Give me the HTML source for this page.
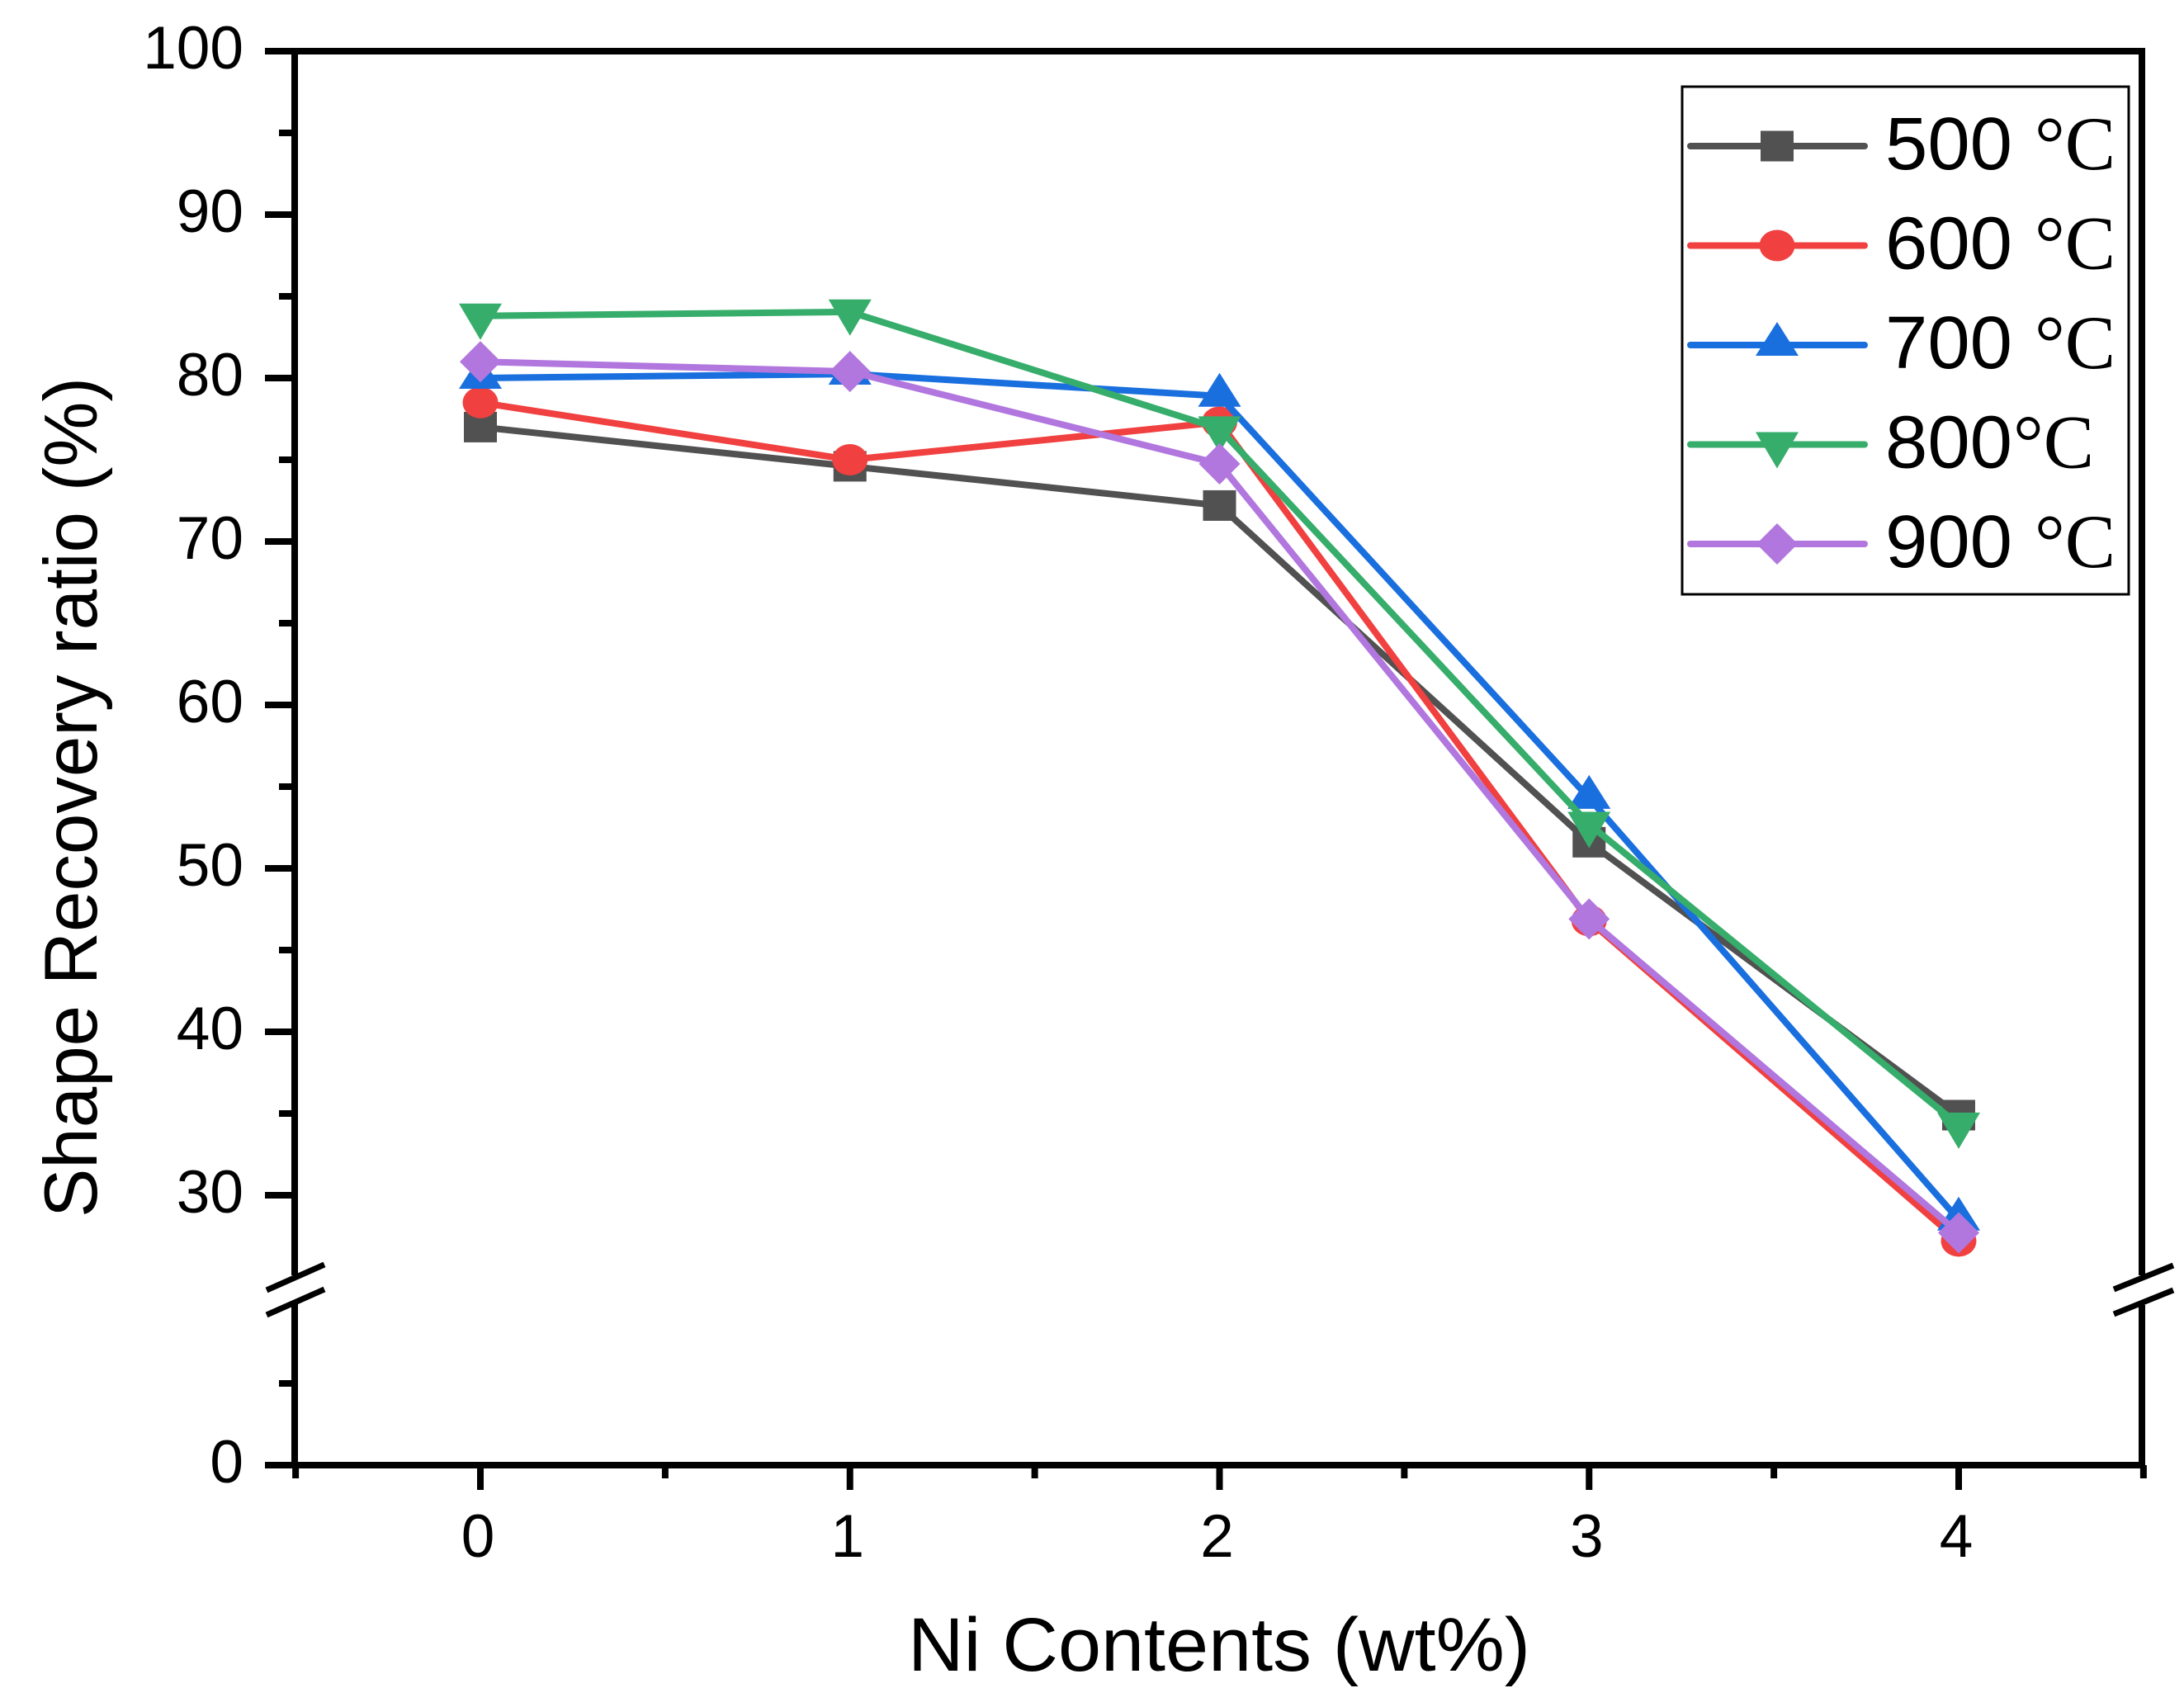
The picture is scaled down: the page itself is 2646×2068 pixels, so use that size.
<!DOCTYPE html>
<html lang="en">
<head>
<meta charset="utf-8">
<title>Shape Recovery ratio vs Ni Contents</title>
<style>
html,body{margin:0;padding:0;background:#fff;}
svg{display:block;}
text{font-family:"Liberation Sans",Arial,sans-serif;fill:#000;}
.serif{font-family:"Liberation Serif","Times New Roman",serif;}
</style>
</head>
<body>
<svg id="chart" xmlns="http://www.w3.org/2000/svg" width="2646" height="2068" viewBox="0 0 2646 2068">
  <rect x="0" y="0" width="2646" height="2068" fill="#fff"/>
  <g id="axes"></g>
  <g id="series"></g>
  <text x="1100" y="2024" font-size="92" textLength="754" lengthAdjust="spacingAndGlyphs">Ni Contents (wt%)</text>
  <text transform="translate(117,1475) rotate(-90)" x="0" y="0" font-size="91" textLength="1018" lengthAdjust="spacingAndGlyphs">Shape Recovery ratio (%)</text>
  <g id="legend">
    <rect x="2038" y="105" width="541" height="615" fill="#fff" stroke="#000" stroke-width="3"/>
  </g>
</svg>
<script>
var categories = [0, 1, 2, 3, 4];
var values500 = [77.0, 74.6, 72.2, 51.6, 34.9];
var values600 = [78.5, 75.0, 77.3, 46.8, 27.2];
var values700 = [80.0, 80.25, 78.9, 54.3, 28.5];
var values800 = [83.8, 84.05, 76.9, 52.7, 34.3];
var values900 = [81.0, 80.4, 74.75, 46.9, 27.7];
var seriesNames = ['500', '600', '700', '800', '900'];
var seriesColors = ['#515151', '#F14040', '#1A6FDF', '#37AD6B', '#B177DE'];
var seriesMarkers = ['square', 'circle', 'up', 'down', 'diamond'];
var yMajorUpper = [30, 40, 50, 60, 70, 80, 90, 100];
var yMinorUpper = [35, 45, 55, 65, 75, 85, 95];
var yMajorLower = [0];
var yMinorLower = [5];
var xMinor = [-0.5, 0.5, 1.5, 2.5, 3.5, 4.5];

var NS = 'http://www.w3.org/2000/svg';
var axes = document.getElementById('axes');
var seriesGroup = document.getElementById('series');
var legend = document.getElementById('legend');

var AXIS_BLACK = '#000';
var LEFT = 357, RIGHT = 2595, TOP = 62, BOTTOM = 1775;

function xScale(v) { return 582 + v * 447.75; }
function yScale(v) { return v <= 15 ? BOTTOM - v * 19.8 : TOP + (100 - v) * 19.8; }

function make(tag, attrs, parent) {
  var el = document.createElementNS(NS, tag);
  for (var k in attrs) { el.setAttribute(k, attrs[k]); }
  parent.appendChild(el);
  return el;
}
function axisLine(parent, x1, y1, x2, y2, w) {
  return make('line', { x1: x1, y1: y1, x2: x2, y2: y2, stroke: AXIS_BLACK, 'stroke-width': w }, parent);
}
function marker(kind, cx, cy, color, parent) {
  var el;
  if (kind === 'square') {
    el = make('rect', { x: cx - 20, y: cy - 18.5, width: 40, height: 37, fill: color }, parent);
  } else if (kind === 'circle') {
    el = make('ellipse', { cx: cx, cy: cy, rx: 21.5, ry: 19, fill: color }, parent);
  } else if (kind === 'up') {
    el = make('polygon', { points: cx + ',' + (cy - 28) + ' ' + (cx + 26) + ',' + (cy + 13) + ' ' + (cx - 26) + ',' + (cy + 13), fill: color }, parent);
  } else if (kind === 'down') {
    el = make('polygon', { points: cx + ',' + (cy + 29) + ' ' + (cx + 26) + ',' + (cy - 15) + ' ' + (cx - 26) + ',' + (cy - 15), fill: color }, parent);
  } else {
    el = make('polygon', { points: cx + ',' + (cy - 25) + ' ' + (cx + 25) + ',' + cy + ' ' + cx + ',' + (cy + 25) + ' ' + (cx - 25) + ',' + cy, fill: color }, parent);
  }
  return el;
}

// Axis frame
var elTop = axisLine(axes, 321, TOP, RIGHT + 4, TOP, 8);


var elBottom = axisLine(axes, 321, BOTTOM, RIGHT + 4, BOTTOM, 8);


var elLeftU = axisLine(axes, LEFT, TOP, LEFT, 1545, 8);


var elLeftL = axisLine(axes, LEFT, 1579, LEFT, BOTTOM, 8);


var elRightU = axisLine(axes, RIGHT, TOP, RIGHT, 1545, 8);


var elRightL = axisLine(axes, RIGHT, 1581, RIGHT, BOTTOM, 8);



// Axis break marks
var breakYs = [1563, 1593];
breakYs.forEach(function (by) {
  var a = axisLine(axes, 323, by, 393, by - 31, 7);
  
  
  var b = axisLine(axes, 2561, by - 1, 2633, by - 30, 7);
  
  
});

// Y ticks
yMajorUpper.concat(yMajorLower).forEach(function (v) {
  var y = yScale(v);
  var t = axisLine(axes, 321, y, LEFT, y, 8);
  
  
  var lab = make('text', { x: 295, y: y + 21, 'font-size': 73, 'text-anchor': 'end' }, axes);
  lab.textContent = String(v);
  
  
});
yMinorUpper.concat(yMinorLower).forEach(function (v) {
  var y = yScale(v);
  var t = axisLine(axes, 338, y, LEFT, y, 8);
  
  
});

// X ticks
categories.forEach(function (c) {
  var x = xScale(c);
  var t = axisLine(axes, x, BOTTOM, x, 1805, 8);
  
  
  var lab = make('text', { x: x - 3, y: 1886, 'font-size': 73, 'text-anchor': 'middle' }, axes);
  lab.textContent = String(c);
  
  
});
xMinor.forEach(function (c) {
  var x = xScale(c);
  var t = axisLine(axes, x, BOTTOM, x, 1791, 8);
  
  
});

// Series
var allValues = [values500, values600, values700, values800, values900];
allValues.forEach(function (vals, i) {
  var pts = vals.map(function (v, j) { return xScale(categories[j]) + ',' + yScale(v); }).join(' ');
  var line = make('polyline', { points: pts, fill: 'none', stroke: seriesColors[i], 'stroke-width': 8, 'stroke-linejoin': 'miter' }, seriesGroup);
  
  
  vals.forEach(function (v, j) {
    var m = marker(seriesMarkers[i], xScale(categories[j]), yScale(v), seriesColors[i], seriesGroup);
    
    
  });
});

// Legend
seriesNames.forEach(function (name, i) {
  var y = 177 + i * 120.5;
  var l = make('line', { x1: 2048, y1: y, x2: 2259, y2: y, stroke: seriesColors[i], 'stroke-width': 8, 'stroke-linecap': 'round' }, legend);
  
  
  var m = marker(seriesMarkers[i], 2153, y, seriesColors[i], legend);
  
  
  var num = make('text', { x: 2284, y: y + 28, 'font-size': 90, textLength: 154, lengthAdjust: 'spacingAndGlyphs' }, legend);
  num.textContent = name;
  
  
  var tight = name === '800';
  var unit = make('text', { x: tight ? 2439 : 2465, y: y + 28, 'font-size': 92, 'class': 'serif' }, legend);
  unit.textContent = '\u00B0C';
  
  
});
</script>
</body>
</html>
